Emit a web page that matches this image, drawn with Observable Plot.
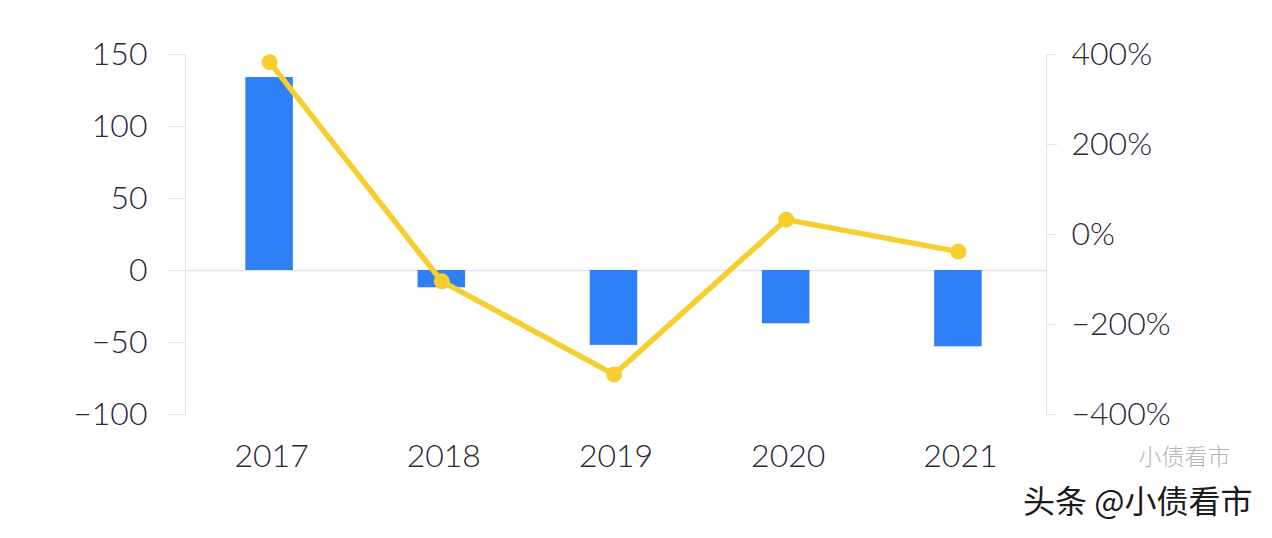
<!DOCTYPE html>
<html>
<head>
<meta charset="utf-8">
<script src="https://cdn.jsdelivr.net/npm/d3@7"></script>
<script src="https://cdn.jsdelivr.net/npm/@observablehq/plot@0.6"></script>
<style>
  html, body { margin: 0; padding: 0; background: #ffffff; }
  #chart { width: 1272px; height: 538px; }
</style>
</head>
<body>
<div id="chart"></div>
<script>
const years = ["2017", "2018", "2019", "2020", "2021"];
const values = [134, -12, -52, -37, -53];          // bars, left axis
const growth = [383, -104, -311, 33, -38];         // line, right axis (%)
const leftTicks = [-100, -50, 0, 50, 100, 150];
const rightTicks = [-400, -200, 0, 200, 400];
const watermark = "头条 @小债看市";
const watermark2 = "小债看市";

// right axis [-400%, 400%] aligned to left axis [-100, 150]
const toLeft = p => p * 250 / 800 + 25;
const fromLeft = v => Math.round((v - 25) * 800 / 250);

const data = years.map((year, i) => ({year, value: values[i], growth: growth[i]}));

const blue = "#2f80f7";
const yellow = "#f6cf2f";
const axisGray = "#dfe3ec";
const textColor = "#2b2536";

const chart = Plot.plot({
  width: 1272,
  height: 538,
  marginLeft: 185,
  marginRight: 226,
  marginTop: 54,
  marginBottom: 124,
  style: {fontFamily: "Lato, 'Noto Sans', sans-serif", fontSize: "32px", fontWeight: 300, background: "#ffffff", overflow: "visible"},
  x: {domain: years, paddingInner: 0.724, paddingOuter: 0.362, round: false, label: null},
  y: {domain: [-100, 150], label: null},
  marks: [
    Plot.frame({anchor: "left", stroke: axisGray}),
    Plot.frame({anchor: "right", stroke: axisGray}),
    Plot.ruleY([0], {stroke: axisGray, strokeWidth: 1.5}),
    Plot.axisY(leftTicks, {anchor: "left", tickSize: 17, tickPadding: 21, stroke: axisGray, fill: textColor, label: null,
      tickFormat: d => d < 0 ? "−" + Math.abs(d) : String(d)}),
    Plot.axisY(rightTicks.map(toLeft), {anchor: "right", tickSize: 10, tickPadding: 15, stroke: axisGray, fill: textColor, label: null,
      tickFormat: d => { const v = fromLeft(d); return (v < 0 ? "−" + Math.abs(v) : v) + "%"; }}),
    Plot.axisX({tickSize: 0, tickPadding: 30, fill: textColor, label: null}),
    Plot.barY(data, {x: "year", y: "value", fill: blue, dx: -2}),
    Plot.line(data, {x: "year", y: d => toLeft(d.growth), stroke: yellow, strokeWidth: 5.5, dx: -2}),
    Plot.dot(data, {x: "year", y: d => toLeft(d.growth), r: 8, fill: yellow, stroke: "none", dx: -2}),
    Plot.text([watermark2], {frameAnchor: "bottom-right", dx: 184, dy: 50, fill: "#b5b5b5", fontSize: 23,
      fontFamily: "'Noto Sans CJK SC', sans-serif", textAnchor: "end"}),
    Plot.text([watermark], {frameAnchor: "bottom-right", dx: 206, dy: 98, fill: "#1a1a1a", fontSize: 32, fontWeight: 400,
      fontFamily: "'Noto Sans CJK SC', sans-serif", textAnchor: "end"})
  ]
});
document.getElementById("chart").appendChild(chart);
</script>
</body>
</html>
